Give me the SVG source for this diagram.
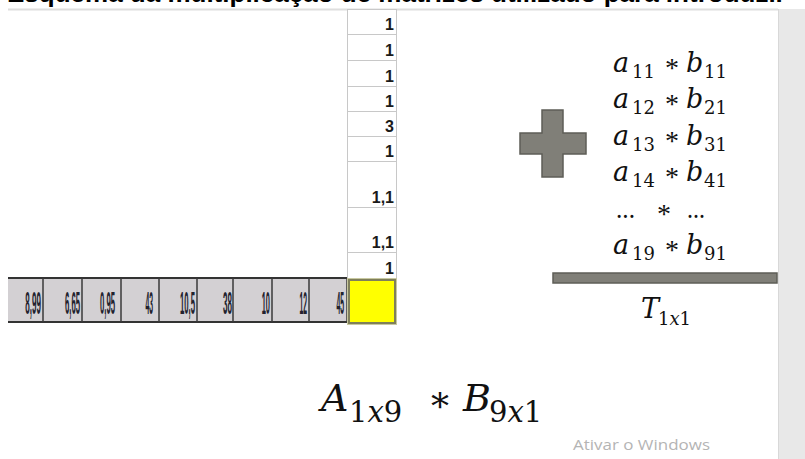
<svg xmlns="http://www.w3.org/2000/svg" width="805" height="459" viewBox="0 0 805 459">
<style>
.title{font-family:"Liberation Sans",Arial,sans-serif;font-weight:bold;font-size:26px;fill:#000}
.cell{fill:#fff;stroke:#c8c8c8;stroke-width:1}
.cv{font-family:"Liberation Sans",Arial,sans-serif;font-weight:bold;font-size:16px;fill:#1a1a1a;text-anchor:end}
.rc{fill:#d3d0d3;stroke:none}
.rv{font-family:"Liberation Sans",Arial,sans-serif;font-size:31px;font-weight:bold;fill:#22222e;text-anchor:end}
.dv{stroke:#3a3a3a;stroke-width:1.5}
.shape{fill:#807f78;stroke:#5e5e57;stroke-width:1.5}
.m{font-family:"DejaVu Serif",serif;font-style:italic;font-size:27px;fill:#111}
.s{font-family:"DejaVu Serif",serif;font-size:18px;fill:#111}
.si{font-style:italic}
.op{font-family:"Liberation Serif","Times New Roman",serif;font-size:28px;fill:#111}
.M{font-family:"DejaVu Serif",serif;font-style:italic;font-size:38px;fill:#111}
.S{font-family:"DejaVu Serif",serif;font-size:29px;fill:#111}
</style>
<rect width="805" height="459" fill="#fff"/>
<g id="title">
<text class="title" x="7" y="2">Esquema da multiplicação de matrizes utilizado para introduzir</text>
<rect x="8" y="8.5" width="770" height="2" fill="#dedede"/>
</g>
<g id="scrollbar">
<rect x="778" y="9" width="27" height="450" fill="#e8e8e8"/>
<line x1="778.5" y1="9" x2="778.5" y2="459" stroke="#d8d8d8"/>
</g>
<g id="column-B">
<rect class="cell" x="347.5" y="9.5" width="49" height="25"/>
<rect class="cell" x="347.5" y="34.5" width="49" height="26"/>
<rect class="cell" x="347.5" y="60.5" width="49" height="26"/>
<rect class="cell" x="347.5" y="86.5" width="49" height="25"/>
<rect class="cell" x="347.5" y="111.5" width="49" height="25"/>
<rect class="cell" x="347.5" y="136.5" width="49" height="25"/>
<rect class="cell" x="347.5" y="161.5" width="49" height="46"/>
<rect class="cell" x="347.5" y="207.5" width="49" height="45"/>
<rect class="cell" x="347.5" y="252.5" width="49" height="26"/>
<text class="cv" x="394" y="30">1</text>
<text class="cv" x="394" y="56">1</text>
<text class="cv" x="394" y="82">1</text>
<text class="cv" x="394" y="107">1</text>
<text class="cv" x="394" y="132">3</text>
<text class="cv" x="394" y="157">1</text>
<text class="cv" x="394" y="203">1,1</text>
<text class="cv" x="394" y="248">1,1</text>
<text class="cv" x="394" y="274">1</text>
</g>
<g id="row-A">
<rect class="rc" x="8" y="278" width="339" height="44"/>
<line x1="8" y1="278" x2="347" y2="278" stroke="#333" stroke-width="2"/>
<line x1="8" y1="322" x2="347" y2="322" stroke="#333" stroke-width="2"/>
<line class="dv" x1="43" y1="278" x2="43" y2="322"/>
<line class="dv" x1="82" y1="278" x2="82" y2="322"/>
<line class="dv" x1="121" y1="278" x2="121" y2="322"/>
<line class="dv" x1="159" y1="278" x2="159" y2="322"/>
<line class="dv" x1="197" y1="278" x2="197" y2="322"/>
<line class="dv" x1="233" y1="278" x2="233" y2="322"/>
<line class="dv" x1="272" y1="278" x2="272" y2="322"/>
<line class="dv" x1="309" y1="278" x2="309" y2="322"/>
<line class="dv" x1="347" y1="278" x2="347" y2="322"/>
<text class="rv" transform="translate(41,314) scale(0.26,1)">8,99</text>
<text class="rv" transform="translate(80,314) scale(0.25,1)">6,65</text>
<text class="rv" transform="translate(115,314) scale(0.25,1)">0,95</text>
<text class="rv" transform="translate(153,314) scale(0.22,1)">43</text>
<text class="rv" transform="translate(195,314) scale(0.25,1)">10,5</text>
<text class="rv" transform="translate(232,314) scale(0.26,1)">38</text>
<text class="rv" transform="translate(270,314) scale(0.24,1)">10</text>
<text class="rv" transform="translate(307,314) scale(0.22,1)">12</text>
<text class="rv" transform="translate(344,314) scale(0.22,1)">45</text>
</g>
<g id="result-cell">
<rect x="347.5" y="278.5" width="49" height="46" fill="#fff" stroke="#c8c8a0"/>
<rect x="349" y="280" width="46" height="43" fill="#ffff00" stroke="#7f7f5a" stroke-width="2"/>
</g>
<g id="plus">
<polygon class="shape" points="542,110 563,110 563,133 586,133 586,154 563,154 563,177 542,177 542,154 520,154 520,133 542,133"/>
</g>
<g id="products">
<text class="m" x="613" y="72">a</text><text class="s" x="632" y="78">11</text><text class="op" x="665" y="77">*</text><text class="m" x="686" y="72">b</text><text class="s" x="704" y="78">11</text>
<text class="m" x="613" y="108">a</text><text class="s" x="632" y="114">12</text><text class="op" x="665" y="113">*</text><text class="m" x="686" y="108">b</text><text class="s" x="704" y="114">21</text>
<text class="m" x="613" y="145">a</text><text class="s" x="632" y="151">13</text><text class="op" x="665" y="150">*</text><text class="m" x="686" y="145">b</text><text class="s" x="704" y="151">31</text>
<text class="m" x="613" y="181">a</text><text class="s" x="632" y="187">14</text><text class="op" x="665" y="186">*</text><text class="m" x="686" y="181">b</text><text class="s" x="704" y="187">41</text>
<text class="op" x="616" y="218" textLength="19" lengthAdjust="spacingAndGlyphs">...</text><text class="op" x="657" y="223">*</text><text class="op" x="687" y="218" textLength="18" lengthAdjust="spacingAndGlyphs">...</text>
<text class="m" x="613" y="254">a</text><text class="s" x="632" y="260">19</text><text class="op" x="665" y="259">*</text><text class="m" x="686" y="254">b</text><text class="s" x="704" y="260">91</text>
</g>
<g id="sum-bar">
<rect class="shape" x="553" y="273" width="224" height="10"/>
</g>
<g id="total">
<text class="m" x="641" y="318">T</text><text class="s" x="658" y="325">1<tspan class="si">x</tspan>1</text>
</g>
<g id="formula">
<text class="M" x="321" y="411">A</text><text class="S" x="349" y="422">1<tspan class="si">x</tspan>9</text>
<text x="431" y="419" font-family="'DejaVu Serif',serif" font-size="36" fill="#111">*</text>
<text class="M" x="463" y="411">B</text><text class="S" x="489" y="422">9<tspan class="si">x</tspan>1</text>
</g>
<g id="watermark">
<text x="573" y="450" font-family="'Open Sans','Liberation Sans',sans-serif" font-size="15" fill="#b4b4b4" textLength="137" lengthAdjust="spacingAndGlyphs">Ativar o Windows</text>
</g>
</svg>
